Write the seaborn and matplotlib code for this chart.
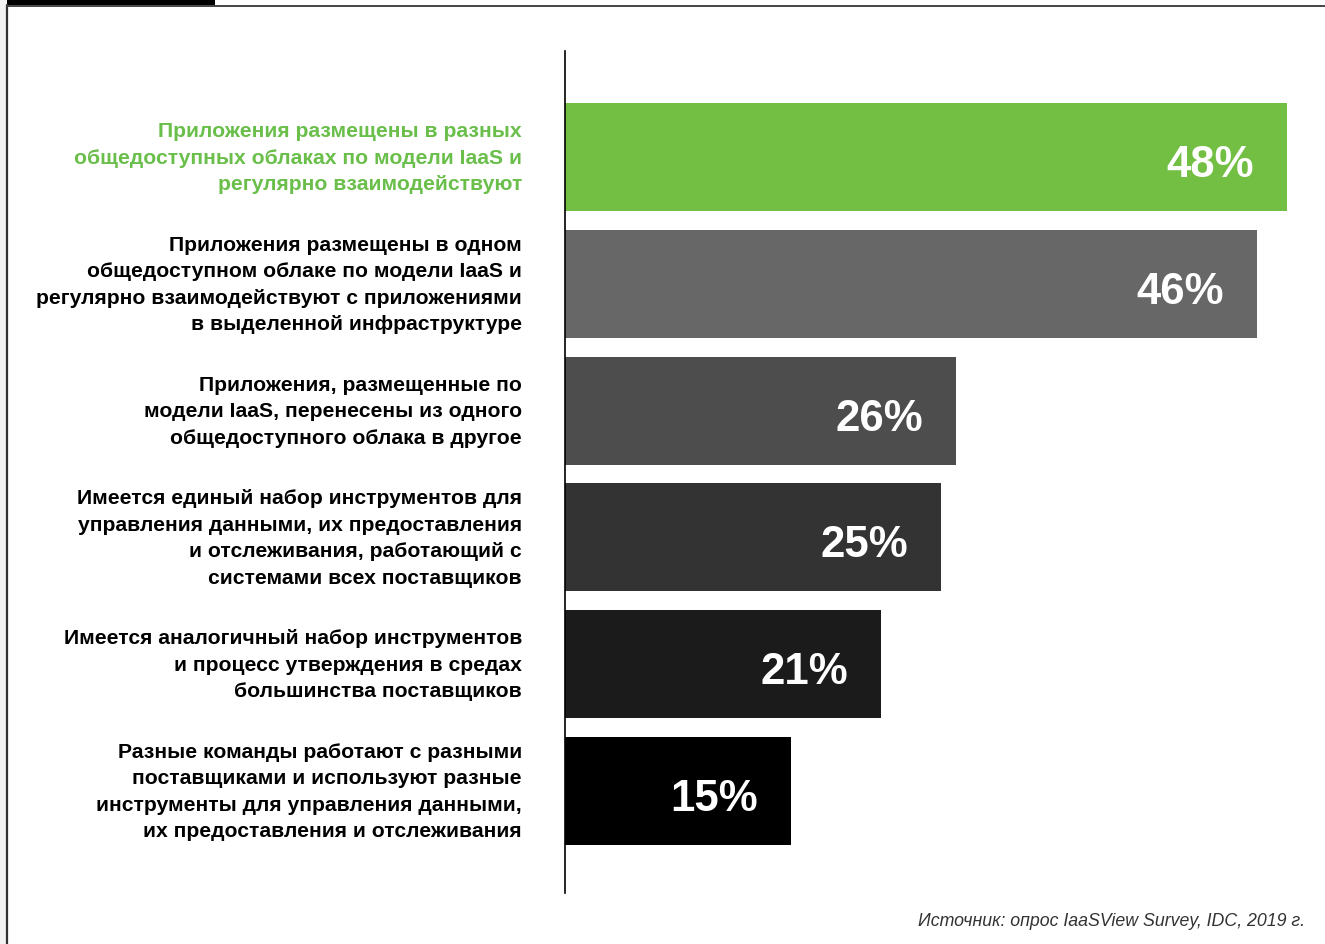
import matplotlib
matplotlib.use("Agg")
import matplotlib.pyplot as plt
from matplotlib.patches import Rectangle
from matplotlib.lines import Line2D
import seaborn as sns
import pandas as pd

categories = [
    "Приложения размещены в разных\nобщедоступных облаках по модели IaaS и\nрегулярно взаимодействуют",
    "Приложения размещены в одном\nобщедоступном облаке по модели IaaS и\nрегулярно взаимодействуют с приложениями\nв выделенной инфраструктуре",
    "Приложения, размещенные по\nмодели IaaS, перенесены из одного\nобщедоступного облака в другое",
    "Имеется единый набор инструментов для\nуправления данными, их предоставления\nи отслеживания, работающий с\nсистемами всех поставщиков",
    "Имеется аналогичный набор инструментов\nи процесс утверждения в средах\nбольшинства поставщиков",
    "Разные команды работают с разными\nпоставщиками и используют разные\nинструменты для управления данными,\nих предоставления и отслеживания",
]
values = [48, 46, 26, 25, 21, 15]
value_labels = ["48%", "46%", "26%", "25%", "21%", "15%"]
bar_colors = ["#72bf44", "#666766", "#4d4d4d", "#333333", "#1b1b1b", "#000000"]
label_colors = ["#6abf4b", "#000000", "#000000", "#000000", "#000000", "#000000"]
source_text = "Источник: опрос IaaSView Survey, IDC, 2019 г."

sns.set_theme(style="white")
plt.rcParams["font.family"] = ["Liberation Sans", "DejaVu Sans"]

W, H = 1325, 945
fig = plt.figure(figsize=(W / 100, H / 100), dpi=100)
fig.patch.set_facecolor("white")

# plot area: x from 565 px to right edge, y from 52 px to 894 px
ax = fig.add_axes([565 / W, 1 - 894 / H, 1 - 565 / W, (894 - 52) / H])

df = pd.DataFrame({"category": categories, "value": values})
sns.barplot(
    data=df, y="category", x="value", hue="category",
    palette=bar_colors, orient="h", width=0.852, legend=False,
    saturation=1, linewidth=0, ax=ax,
)

ax.set_xlim(0, 760 / 15.05)
ax.set_ylim(5.804, -0.836)
ax.set_xlabel("")
ax.set_ylabel("")
ax.set_xticks([])
ax.set_yticks([])
for side in ["top", "right", "bottom"]:
    ax.spines[side].set_visible(False)
ax.spines["left"].set_color("#000000")
ax.spines["left"].set_linewidth(1.2)
ax.set_facecolor("none")

# category labels to the left of the axis
trans = matplotlib.transforms.blended_transform_factory(fig.transFigure, ax.transData)
for i, (lab, col) in enumerate(zip(categories, label_colors)):
    ax.text(522 / W, i, lab, transform=trans, ha="right", va="center",
            fontsize=15.2, fontweight="bold", color=col, linespacing=1.5,
            multialignment="right")

# value labels inside the bars
for i, (v, t) in enumerate(zip(values, value_labels)):
    ax.text(v - 2.2, i + 0.15, t, ha="right", va="baseline", fontsize=31.5,
            fontweight="bold", color="white")

# page frame decorations
fig.add_artist(Rectangle((0, 0), 6 / W, 1, transform=fig.transFigure,
                         facecolor="#f3f3f3", edgecolor="none"))
fig.add_artist(Line2D([7 / W, 7 / W], [0, 1 - 6 / H], transform=fig.transFigure,
                      color="#333333", linewidth=1.6))
fig.add_artist(Line2D([7 / W, 1], [1 - 6.5 / H, 1 - 6.5 / H], transform=fig.transFigure,
                      color="#444444", linewidth=1.4))
fig.add_artist(Rectangle((7 / W, 1 - 6 / H), (215 - 7) / W, 6 / H,
                         transform=fig.transFigure, facecolor="#000000", edgecolor="none"))

fig.text(1305 / W, 1 - 922 / H, source_text, ha="right", va="center",
         fontsize=12.8, style="italic", color="#333333")

fig.savefig("out.png", dpi=100, facecolor="white")
